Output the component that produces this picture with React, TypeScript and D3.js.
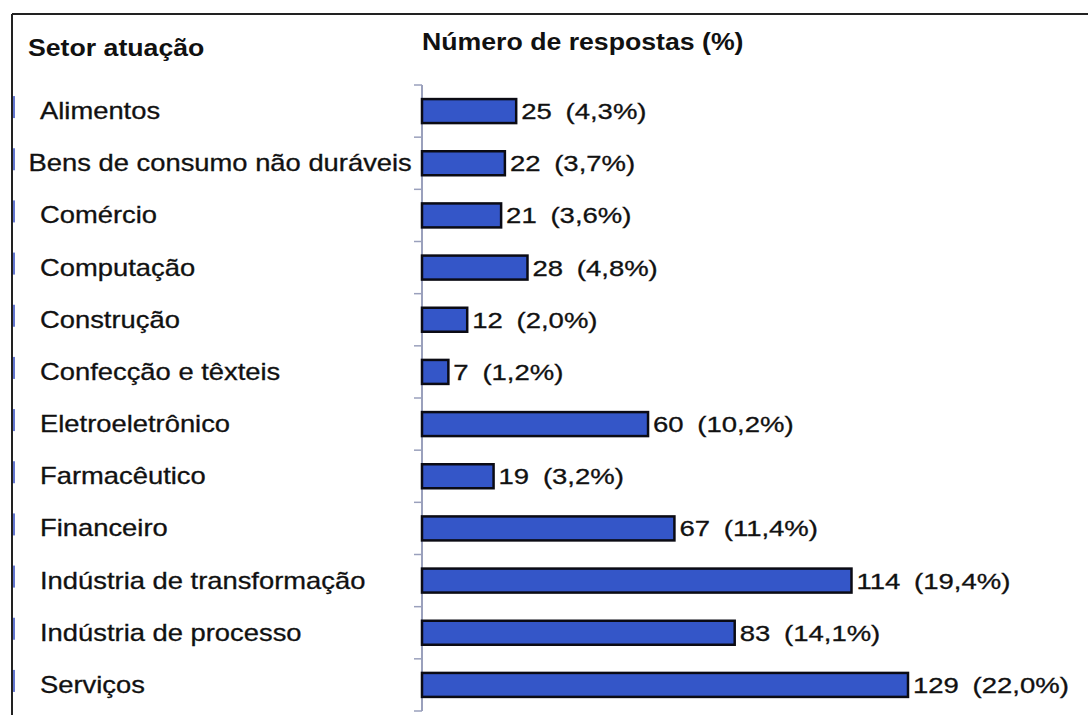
import React from "react";
import * as d3 from "d3";

const categories = [
  "Alimentos",
  "Bens de consumo não duráveis",
  "Comércio",
  "Computação",
  "Construção",
  "Confecção e têxteis",
  "Eletroeletrônico",
  "Farmacêutico",
  "Financeiro",
  "Indústria de transformação",
  "Indústria de processo",
  "Serviços",
];
const counts = [25, 22, 21, 28, 12, 7, 60, 19, 67, 114, 83, 129];
const percents = ["4,3", "3,7", "3,6", "4,8", "2,0", "1,2", "10,2", "3,2", "11,4", "19,4", "14,1", "22,0"];

const W = 1088;
const H = 715;
const FONT = "'Liberation Sans', Arial, Helvetica, sans-serif";
const LABEL_FS = 23;
const SX = 1.19; // horizontal stretch of the scanned text
const VAL_FS = 22;
const SXV = 1.25;
const TITLE_FS = 23;
const SXB = 1.16;

function measure(text: string, font: string): number {
  if (typeof document === "undefined") return 0;
  const c = document.createElement("canvas");
  const ctx = c.getContext("2d");
  if (!ctx) return 0;
  ctx.font = font;
  return ctx.measureText(text).width;
}

export default function App() {
  const axisX = 422;
  const y = d3
    .scaleBand<string>()
    .domain(categories)
    .range([85, 711])
    .paddingInner(0.54)
    .paddingOuter(0.27);
  const x = d3.scaleLinear().domain([0, d3.max(counts) as number]).range([axisX, 908]);
  const step = y.step();
  const bounds = d3.range(categories.length + 1).map((i) => 85 + i * step);

  return (
    <div style={{ position: "absolute", left: 0, top: 0 }}>
      <svg width={W} height={H} style={{ display: "block", background: "#fff" }}>
        <rect x={0} y={0} width={W} height={H} fill="#fff" />
        {/* frame */}
        <line x1={12} y1={14} x2={W} y2={14} stroke="#222" strokeWidth={2} />
        <line x1={12} y1={14} x2={12} y2={H} stroke="#222" strokeWidth={2} />
        {categories.map((c) => {
          const cy = (y(c) as number) + y.bandwidth() / 2;
          return (
            <rect key={"m" + c} x={13} y={cy - 15} width={2} height={22} fill="#3d55c4" opacity={0.8} />
          );
        })}

        {/* headers */}
        <text
          transform={`translate(28,56) scale(${SXB},1)`}
          fontFamily={FONT}
          fontWeight="bold"
          fontSize={TITLE_FS}
          fill="#111"
        >
          Setor atuação
        </text>
        <text
          transform={`translate(422,50) scale(${SXB},1)`}
          fontFamily={FONT}
          fontWeight="bold"
          fontSize={TITLE_FS}
          fill="#111"
        >
          Número de respostas (%)
        </text>

        {/* axis */}
        <line x1={axisX} y1={85} x2={axisX} y2={711} stroke="#9aa0bc" strokeWidth={2} />
        {bounds.map((b, i) => (
          <line key={"t" + i} x1={414} y1={b} x2={axisX} y2={b} stroke="#9aa0bc" strokeWidth={1.5} />
        ))}

        {/* category labels */}
        {categories.map((c) => {
          const cy = (y(c) as number) + y.bandwidth() / 2;
          const w = measure(c, `${LABEL_FS}px ${FONT}`) * SX;
          const lx = Math.min(40, 412 - w);
          return (
            <text
              key={"l" + c}
              transform={`translate(${lx},${cy + 8}) scale(${SX},1)`}
              fontFamily={FONT}
              fontSize={LABEL_FS}
              fill="#111"
              stroke="#111"
              strokeWidth={0.3}
            >
              {c}
            </text>
          );
        })}

        {/* bars */}
        {categories.map((c, i) => (
          <rect
            key={"b" + c}
            x={axisX}
            y={y(c) as number}
            width={x(counts[i]) - axisX}
            height={y.bandwidth()}
            fill="#3456c8"
            stroke="#0b0b14"
            strokeWidth={2.5}
          />
        ))}

        {/* value labels */}
        {categories.map((c, i) => {
          const cy = (y(c) as number) + y.bandwidth() / 2;
          return (
            <text
              key={"v" + c}
              transform={`translate(${x(counts[i]) + 5},${cy + 8}) scale(${SXV},1)`}
              fontFamily={FONT}
              fontSize={VAL_FS}
              fill="#111"
              stroke="#111"
              strokeWidth={0.3}
            >
              <tspan>{counts[i]}</tspan>
              <tspan dx={11}>({percents[i]}%)</tspan>
            </text>
          );
        })}
      </svg>
    </div>
  );
}
